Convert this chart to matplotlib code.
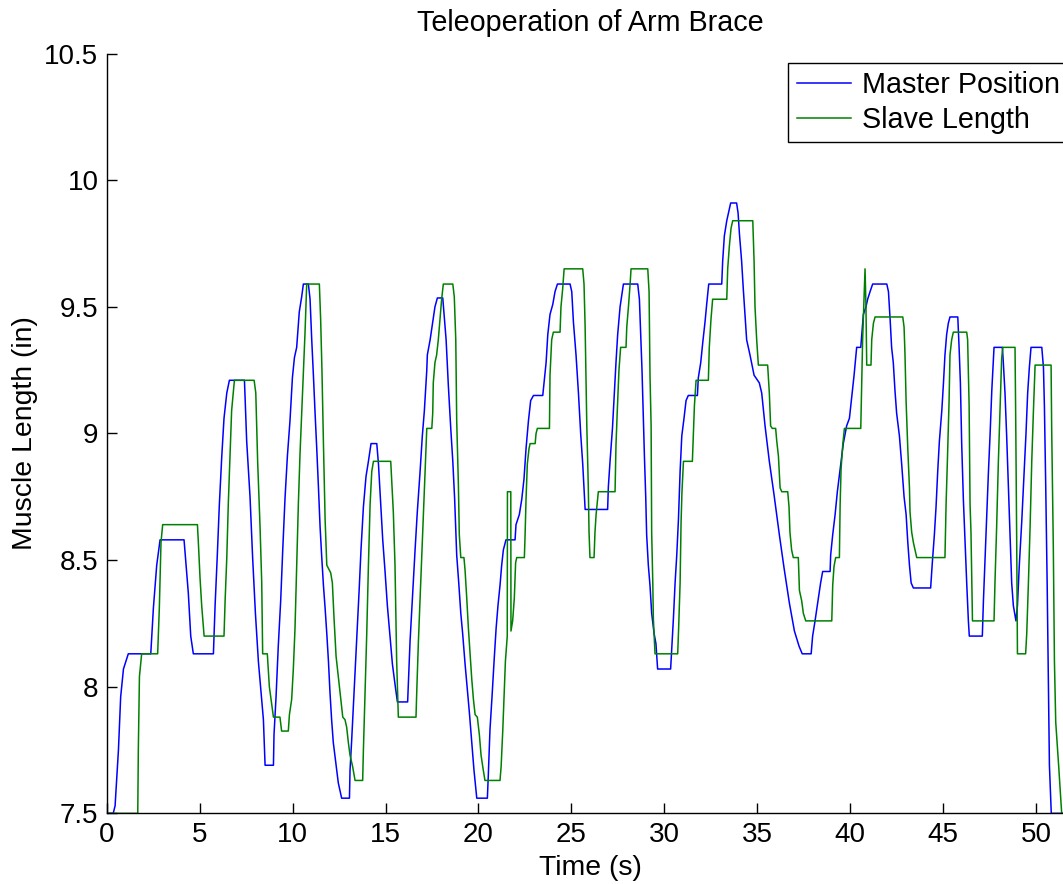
import matplotlib
matplotlib.use("Agg")
import matplotlib.pyplot as plt
from matplotlib.ticker import FormatStrFormatter

FONT = 'Liberation Sans'
FS_TICK = 20
FS_LABEL = 20.4
FS_TITLE = 20.7

# Master position (blue)
master_t = [0.00, 0.35, 0.45, 0.63, 0.75, 0.90, 1.16, 2.37, 2.51, 2.69, 2.87, 4.16, 4.27, 4.39, 4.52, 4.66,
            5.74, 5.83, 5.95, 6.06, 6.19, 6.31, 6.46, 6.60, 7.41, 7.53, 7.71, 7.85, 8.00, 8.16, 8.34, 8.43,
            8.52, 8.97, 9.00, 9.11, 9.23, 9.36, 9.47, 9.59, 9.72, 9.86, 9.99, 10.10, 10.22, 10.36, 10.49,
            10.58, 10.85, 10.94, 11.03, 11.12, 11.21, 11.30, 11.39, 11.48, 11.57, 11.66, 11.75, 11.84, 11.93,
            12.01, 12.10, 12.19, 12.34, 12.46, 12.64, 13.06, 13.09, 13.18, 13.31, 13.45, 13.58, 13.68, 13.81,
            13.95, 14.08, 14.22, 14.53, 14.62, 14.74, 14.85, 14.97, 15.10, 15.24, 15.37, 15.51, 15.64, 16.19,
            16.32, 16.46, 16.59, 16.71, 16.86, 16.98, 17.09, 17.22, 17.25, 17.40, 17.54, 17.66, 17.79, 18.08,
            18.26, 18.38, 18.51, 18.62, 18.72, 18.83, 18.94, 19.05, 19.15, 19.28, 19.39, 19.51, 19.64, 19.76,
            19.91, 20.48, 20.53, 20.62, 20.73, 20.84, 20.95, 21.05, 21.16, 21.25, 21.34, 21.48, 21.97, 22.02,
            22.20, 22.33, 22.45, 22.56, 22.69, 22.81, 22.96, 23.46, 23.53, 23.64, 23.73, 23.85, 24.00, 24.12,
            24.25, 24.93, 25.02, 25.11, 25.25, 25.38, 25.50, 25.61, 25.74, 26.95, 26.99, 27.08, 27.21, 27.31,
            27.40, 27.49, 27.62, 27.74, 27.80, 28.57, 28.66, 28.73, 28.80, 28.87, 28.93, 29.00, 29.05, 29.14,
            29.23, 29.32, 29.45, 29.55, 29.64, 30.34, 30.40, 30.49, 30.58, 30.67, 30.76, 30.85, 30.94, 31.06,
            31.17, 31.29, 31.78, 31.83, 31.96, 32.07, 32.19, 32.28, 32.39, 33.09, 33.14, 33.23, 33.36, 33.48,
            33.57, 33.89, 33.97, 34.04, 34.16, 34.25, 34.34, 34.43, 34.52, 34.61, 34.83, 35.11, 35.24, 35.42,
            35.65, 35.90, 36.19, 36.44, 36.73, 37.00, 37.25, 37.42, 37.90, 37.98, 38.11, 38.29, 38.41, 38.52,
            38.92, 38.95, 39.06, 39.19, 39.31, 39.46, 39.54, 39.63, 39.81, 39.96, 40.08, 40.21, 40.35, 40.57,
            40.71, 40.85, 40.94, 41.07, 41.21, 41.97, 42.06, 42.15, 42.23, 42.32, 42.41, 42.50, 42.65, 42.77,
            42.90, 43.01, 43.10, 43.19, 43.28, 43.40, 44.33, 44.42, 44.53, 44.62, 44.71, 44.80, 44.93, 45.02,
            45.10, 45.19, 45.28, 45.37, 45.79, 45.86, 45.93, 46.00, 46.09, 46.18, 46.27, 46.36, 46.41, 47.11,
            47.17, 47.26, 47.35, 47.44, 47.53, 47.62, 47.74, 48.19, 48.24, 48.33, 48.42, 48.51, 48.60, 48.69,
            48.78, 48.92, 49.00, 49.10, 49.23, 49.36, 49.46, 49.55, 49.64, 49.73, 50.31, 50.40, 50.45, 50.52,
            50.60, 50.66, 50.72, 50.82, 51.60]
master_len = [7.50, 7.50, 7.53, 7.75, 7.96, 8.07, 8.13, 8.13, 8.31, 8.48, 8.58, 8.58, 8.48, 8.37, 8.20, 8.13,
              8.13, 8.32, 8.52, 8.72, 8.91, 9.06, 9.16, 9.21, 9.21, 8.97, 8.75, 8.51, 8.29, 8.10, 7.95, 7.87,
              7.69, 7.69, 7.81, 7.96, 8.16, 8.34, 8.54, 8.74, 8.91, 9.05, 9.22, 9.30, 9.34, 9.48, 9.54,
              9.59, 9.59, 9.53, 9.37, 9.23, 9.08, 8.94, 8.79, 8.63, 8.51, 8.40, 8.31, 8.21, 8.10,
              7.98, 7.87, 7.78, 7.69, 7.62, 7.56, 7.56, 7.67, 7.79, 7.98, 8.18, 8.38, 8.54, 8.71,
              8.83, 8.89, 8.96, 8.96, 8.88, 8.72, 8.58, 8.46, 8.32, 8.20, 8.09, 8.01, 7.94, 7.94,
              8.18, 8.37, 8.54, 8.69, 8.85, 8.99, 9.09, 9.25, 9.31, 9.37, 9.44, 9.50, 9.535, 9.535,
              9.37, 9.19, 9.02, 8.89, 8.74, 8.52, 8.41, 8.29, 8.21, 8.09, 8.00, 7.90, 7.78, 7.67,
              7.56, 7.56, 7.65, 7.83, 7.96, 8.10, 8.23, 8.32, 8.40, 8.48, 8.54, 8.58, 8.58, 8.64,
              8.68, 8.74, 8.82, 8.94, 9.05, 9.13, 9.15, 9.15, 9.20, 9.28, 9.39, 9.47, 9.51, 9.56,
              9.59, 9.59, 9.56, 9.44, 9.31, 9.16, 9.00, 8.88, 8.70, 8.70, 8.79, 8.89, 9.02, 9.16,
              9.28, 9.39, 9.50, 9.56, 9.59, 9.59, 9.53, 9.39, 9.25, 9.06, 8.91, 8.75, 8.60, 8.48,
              8.40, 8.29, 8.21, 8.17, 8.07, 8.07, 8.15, 8.27, 8.41, 8.52, 8.66, 8.85, 8.99, 9.06,
              9.13, 9.15, 9.15, 9.22, 9.28, 9.36, 9.44, 9.51, 9.59, 9.59, 9.68, 9.78, 9.84, 9.88,
              9.91, 9.91, 9.87, 9.79, 9.68, 9.57, 9.47, 9.37, 9.34, 9.31, 9.23, 9.20, 9.16, 9.03,
              8.89, 8.76, 8.60, 8.47, 8.33, 8.22, 8.16, 8.13, 8.13, 8.20, 8.26, 8.35, 8.41, 8.455,
              8.455, 8.52, 8.60, 8.68, 8.77, 8.86, 8.91, 8.96, 9.03, 9.06, 9.14, 9.23, 9.34, 9.34,
              9.47, 9.50, 9.53, 9.56, 9.59, 9.59, 9.56, 9.45, 9.34, 9.28, 9.17, 9.08, 8.99, 8.88,
              8.75, 8.68, 8.57, 8.48, 8.41, 8.39, 8.39, 8.49, 8.60, 8.71, 8.85, 8.97, 9.09, 9.20,
              9.31, 9.39, 9.435, 9.46, 9.46, 9.34, 9.20, 8.96, 8.74, 8.57, 8.41, 8.26, 8.20, 8.20,
              8.34, 8.51, 8.68, 8.85, 9.00, 9.17, 9.34, 9.34, 9.28, 9.16, 8.99, 8.80, 8.60, 8.41,
              8.32, 8.26, 8.32, 8.48, 8.65, 8.85, 9.00, 9.16, 9.26, 9.34, 9.34, 9.26, 9.11, 8.80,
              8.40, 8.03, 7.69, 7.50, 7.50]

# Slave length (green)
slave_t = [0.00, 1.67, 1.70, 1.76, 1.88, 2.74, 2.83, 2.92, 3.01, 4.88, 4.93, 5.02, 5.11, 5.24, 6.31, 6.37,
           6.46, 6.54, 6.63, 6.72, 6.87, 7.93, 8.02, 8.12, 8.25, 8.34, 8.39, 8.64, 8.75, 8.84, 8.97, 9.32,
           9.41, 9.77, 9.83, 9.95, 10.04, 10.13, 10.22, 10.31, 10.40, 10.49, 10.58, 10.67, 10.76, 11.44,
           11.51, 11.58, 11.66, 11.75, 11.84, 12.05, 12.14, 12.23, 12.34, 12.46, 12.59, 12.70, 12.82, 12.91,
           13.00, 13.09, 13.23, 13.36, 13.77, 13.81, 13.90, 13.99, 14.08, 14.17, 14.26, 14.35, 15.28, 15.33,
           15.42, 15.51, 15.60, 15.69, 16.64, 16.68, 16.77, 16.86, 16.95, 17.04, 17.13, 17.22, 17.49, 17.54,
           17.57, 17.66, 17.75, 17.84, 17.93, 18.02, 18.11, 18.62, 18.70, 18.78, 18.83, 18.92, 18.97, 19.05,
           19.22, 19.28, 19.37, 19.46, 19.55, 19.64, 19.73, 19.82, 19.94, 20.05, 20.14, 20.23, 20.35, 21.16,
           21.22, 21.31, 21.38, 21.45, 21.55, 21.56, 21.74, 21.75, 21.84, 21.93, 22.00, 22.06, 22.47, 22.51,
           22.56, 22.63, 22.72, 22.78, 23.05, 23.10, 23.17, 23.82, 23.85, 23.94, 24.03, 24.39, 24.44, 24.53,
           24.61, 25.61, 25.68, 25.74, 25.83, 25.91, 25.95, 26.00, 26.22, 26.27, 26.33, 26.45, 27.35, 27.40,
           27.47, 27.56, 27.65, 27.94, 27.98, 28.07, 28.16, 28.21, 29.11, 29.18, 29.23, 29.29, 29.32, 29.38,
           29.41, 29.45, 29.50, 30.72, 30.77, 30.85, 30.90, 30.95, 31.03, 31.51, 31.56, 31.62, 31.71, 32.37,
           32.42, 32.51, 32.60, 33.36, 33.41, 33.50, 33.59, 33.68, 34.76, 34.83, 34.88, 34.97, 35.06, 35.56,
           35.65, 35.72, 35.81, 35.99, 36.05, 36.14, 36.23, 36.32, 36.64, 36.71, 36.76, 36.85, 36.94, 37.21,
           37.27, 37.39, 37.48, 37.61, 39.01, 39.06, 39.13, 39.22, 39.42, 39.46, 39.51, 39.60, 39.69, 40.57,
           40.62, 40.67, 40.75, 40.80, 40.85, 40.89, 41.12, 41.16, 41.25, 41.34, 42.83, 42.90, 42.95, 43.01,
           43.10, 43.19, 43.22, 43.31, 43.40, 43.49, 43.58, 45.10, 45.16, 45.23, 45.32, 45.37, 45.46, 45.55,
           46.27, 46.32, 46.40, 46.45, 46.50, 46.58, 47.74, 47.79, 47.88, 47.97, 48.06, 48.15, 48.21, 48.87,
           48.91, 48.96, 49.00, 49.44, 49.50, 49.59, 49.68, 49.77, 49.86, 49.95, 50.81, 50.84, 50.93, 50.99,
           51.06, 51.22, 51.38, 51.60]
slave_len = [7.50, 7.50, 7.75, 8.04, 8.13, 8.13, 8.31, 8.57, 8.64, 8.64, 8.57, 8.43, 8.32, 8.20, 8.20, 8.34,
             8.51, 8.72, 8.91, 9.09, 9.21, 9.21, 9.16, 8.89, 8.63, 8.41, 8.13, 8.13, 8.00, 7.95, 7.88, 7.88,
             7.825, 7.825, 7.89, 7.95, 8.07, 8.23, 8.48, 8.72, 8.92, 9.08, 9.23, 9.40, 9.59, 9.59,
             9.45, 9.25, 8.96, 8.66, 8.48, 8.45, 8.41, 8.27, 8.12, 8.04, 7.95, 7.88, 7.87, 7.84,
             7.78, 7.73, 7.685, 7.63, 7.63, 7.75, 7.98, 8.21, 8.48, 8.72, 8.85, 8.89, 8.89, 8.82,
             8.69, 8.48, 8.10, 7.88, 7.88, 7.98, 8.18, 8.35, 8.52, 8.69, 8.85, 9.02, 9.02, 9.08,
             9.20, 9.28, 9.31, 9.37, 9.45, 9.53, 9.59, 9.59, 9.54, 9.37, 9.05, 8.80, 8.60, 8.51,
             8.51, 8.46, 8.35, 8.23, 8.13, 8.03, 7.95, 7.89, 7.88, 7.81, 7.73, 7.685, 7.63, 7.63,
             7.685, 7.83, 7.96, 8.10, 8.20, 8.77, 8.77, 8.22, 8.26, 8.35, 8.49, 8.51, 8.51, 8.60,
             8.74, 8.88, 8.94, 8.96, 8.96, 9.00, 9.02, 9.02, 9.23, 9.37, 9.40, 9.40, 9.50, 9.57,
             9.65, 9.65, 9.59, 9.42, 9.03, 8.79, 8.61, 8.51, 8.51, 8.61, 8.68, 8.77, 8.77, 8.955,
             9.09, 9.25, 9.34, 9.34, 9.42, 9.50, 9.59, 9.65, 9.65, 9.56, 9.23, 9.03, 8.61, 8.41,
             8.27, 8.21, 8.13, 8.13, 8.23, 8.41, 8.645, 8.77, 8.89, 8.89, 8.99, 9.11, 9.21, 9.21,
             9.34, 9.45, 9.53, 9.53, 9.65, 9.74, 9.81, 9.84, 9.84, 9.68, 9.50, 9.37, 9.27, 9.27,
             9.16, 9.03, 9.02, 9.02, 8.97, 8.91, 8.785, 8.77, 8.77, 8.71, 8.61, 8.54, 8.51, 8.51,
             8.38, 8.34, 8.29, 8.26, 8.26, 8.40, 8.475, 8.51, 8.51, 8.72, 8.86, 8.955, 9.02, 9.02,
             9.19, 9.37, 9.54, 9.65, 9.50, 9.27, 9.27, 9.37, 9.435, 9.46, 9.46, 9.42, 9.31, 9.125,
             8.94, 8.785, 8.69, 8.61, 8.57, 8.54, 8.51, 8.51, 8.72, 8.89, 9.125, 9.31, 9.37, 9.40,
             9.40, 9.37, 9.11, 8.72, 8.61, 8.26, 8.26, 8.41, 8.63, 8.88, 9.09, 9.295, 9.34, 9.34,
             9.03, 8.57, 8.13, 8.13, 8.21, 8.41, 8.63, 8.89, 9.09, 9.27, 9.27, 9.03, 8.55, 8.10,
             7.86, 7.685, 7.50, 7.50]

x_ticks = [0, 5, 10, 15, 20, 25, 30, 35, 40, 45, 50]
y_ticks = [7.5, 8, 8.5, 9, 9.5, 10, 10.5]

plt.rcParams['font.family'] = [FONT, 'DejaVu Sans']

fig = plt.figure(figsize=(10.63, 8.84), dpi=100)
# axes run a little past the right edge of the picture, like the cropped original
ax = fig.add_axes([0.1004, 0.0799, 0.9092, 0.8595])

ax.plot(master_t, master_len, color=(0, 0, 1), linewidth=1.1, label='Master Position')
ax.plot(slave_t, slave_len, color=(0, 0.5, 0), linewidth=1.1, label='Slave Length')

ax.set_xlim(0, 52)
ax.set_ylim(7.5, 10.5)
ax.set_xticks(x_ticks)
ax.set_yticks(y_ticks)
ax.yaxis.set_major_formatter(FormatStrFormatter('%g'))
ax.tick_params(direction='in', length=7, width=1, labelsize=FS_TICK, pad=6)
ax.spines['top'].set_visible(False)
ax.spines['right'].set_visible(False)
for s in ['left', 'bottom']:
    ax.spines[s].set_linewidth(1)

ax.set_title('Teleoperation of Arm Brace', fontsize=FS_TITLE, pad=16)
ax.set_xlabel('Time (s)', fontsize=FS_LABEL, labelpad=5)
ax.set_ylabel('Muscle Length (in)', fontsize=FS_LABEL, labelpad=4.5)

leg = ax.legend(loc='upper left', bbox_to_anchor=(788.3 / 1063, 1 - 62.7 / 884),
                bbox_transform=fig.transFigure, fontsize=FS_TITLE, borderaxespad=0,
                borderpad=0.29, handlelength=1.9, handletextpad=0.37, labelspacing=0.24,
                fancybox=False, framealpha=1)
leg.get_frame().set_edgecolor('black')
leg.get_frame().set_linewidth(1)

plt.savefig('out.png', dpi=100)
